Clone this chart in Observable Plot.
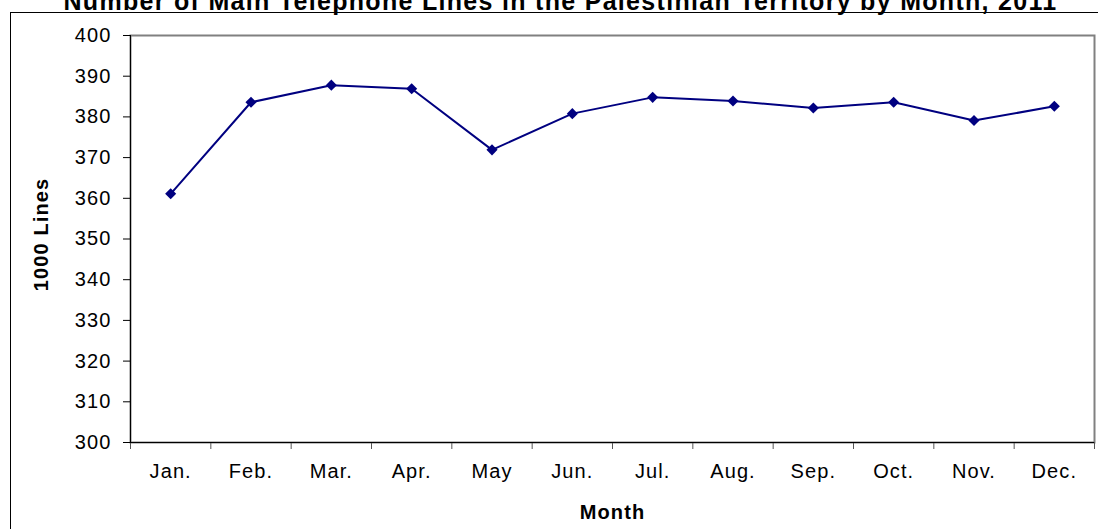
<!DOCTYPE html>
<html><head><meta charset="utf-8">
<script src="https://cdn.jsdelivr.net/npm/d3@7"></script>
<script src="https://cdn.jsdelivr.net/npm/@observablehq/plot@0.6"></script>
<style>
html,body{margin:0;padding:0;background:#fff;}
#wrap{position:relative;width:1098px;height:529px;overflow:hidden;}
#border{position:absolute;left:10px;top:12px;width:1200px;height:600px;border-left:1px solid #000;border-top:1px solid #000;}
#chart{position:absolute;left:0;top:0;}
#chart svg text{letter-spacing:1.1px;}
#chart svg g[font-size="25"] text{letter-spacing:1.3px;}
</style></head>
<body><div id="wrap"><div id="border"></div><div id="chart"></div></div>
<script>
const months = ["Jan.","Feb.","Mar.","Apr.","May","Jun.","Jul.","Aug.","Sep.","Oct.","Nov.","Dec."];
const lines = [361.1, 383.6, 387.8, 386.9, 371.9, 380.8, 384.8, 383.9, 382.2, 383.6, 379.1, 382.6];
const yTicks = [300, 310, 320, 330, 340, 350, 360, 370, 380, 390, 400];
const title = "Number of Main Telephone Lines in the Palestinian Territory by Month, 2011";
const xTitle = "Month";
const yTitle = "1000 Lines";

const data = months.map((m, i) => ({month: m, idx: i + 1, value: lines[i]}));
const boundaries = d3.range(0, months.length + 1).map(i => i + 0.5);

const plot = Plot.plot({
  width: 1098, height: 529,
  marginLeft: 130, marginRight: 4, marginTop: 35, marginBottom: 87,
  style: {fontFamily: "'Liberation Sans', Arial, sans-serif", fontSize: "20px", background: "transparent", color: "#000", overflow: "visible"},
  x: {domain: [0.5, months.length + 0.5]},
  y: {domain: [300, 400]},
  marks: [
    Plot.frame({stroke: "#808080", strokeWidth: 2}),
    Plot.axisY({ticks: yTicks, tickSize: 7, tickPadding: 12, label: null, stroke: "#000"}),
    Plot.axisX({ticks: boundaries, tickSize: 7, tickFormat: () => "", label: null, stroke: "#555"}),
    Plot.axisX({ticks: data.map(d => d.idx), tickSize: 0, tickPadding: 21, tickFormat: i => months[i - 1], label: null}),
    Plot.ruleX([0.5], {stroke: "#000"}),
    Plot.ruleY([300], {stroke: "#000"}),
    Plot.line(data, {x: "idx", y: "value", stroke: "#000080", strokeWidth: 2}),
    Plot.dot(data, {x: "idx", y: "value", symbol: "diamond2", r: 5, fill: "#000080"}),
    Plot.text([yTitle], {frameAnchor: "left", textAnchor: "middle", lineAnchor: "middle", dx: -89, dy: -4.5, rotate: -90, fontWeight: "bold", fontSize: 20}),
    Plot.text([xTitle], {frameAnchor: "bottom", textAnchor: "middle", lineAnchor: "middle", dy: 69.6, fontWeight: "bold", fontSize: 20}),
    Plot.text([title], {frameAnchor: "top", textAnchor: "middle", lineAnchor: "middle", dx: -52, dy: -33.5, fontWeight: "bold", fontSize: 25})
  ]
});
document.getElementById("chart").appendChild(plot);
</script>
</body></html>
